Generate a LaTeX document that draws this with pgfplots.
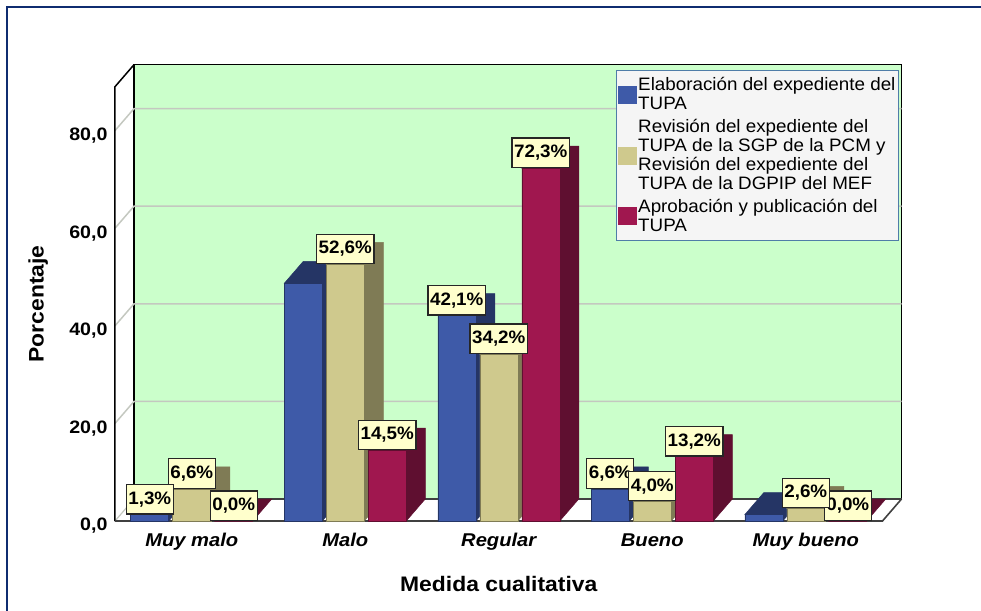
\documentclass[border=0pt]{standalone}
\usepackage{fontspec}
\setmainfont{Liberation Sans}
\newfontfamily\leyf[FakeStretch=1.045]{Liberation Sans}
\newfontfamily\negf[FakeStretch=1.09]{Liberation Sans}
\usepackage{pgfplots}
\usepackage{pgfplotstable}
\pgfplotsset{compat=1.18}

\definecolor{pared}{HTML}{CBFFCB}
\definecolor{rejilla}{HTML}{C4C8C0}
\definecolor{azul}{HTML}{3E5AA8}
\definecolor{azulosc}{HTML}{253565}
\definecolor{ocre}{HTML}{CFC98D}
\definecolor{ocreosc}{HTML}{7F7B55}
\definecolor{grana}{HTML}{A0174F}
\definecolor{granaosc}{HTML}{5F0F30}
\definecolor{marco}{HTML}{0F2C70}
\definecolor{etiq}{HTML}{FFFFCC}
\definecolor{bordeley}{HTML}{4F7DA8}

% valores por categoria
\pgfplotstableread{
x elab rev apro
0 1.3 6.6 0.0
1 48.7 52.6 14.5
2 42.1 34.2 72.3
3 6.6 4.0 13.2
4 1.3 2.6 0.0
}\datos

% etiquetas, el orden decide cual queda encima
\pgfplotstableread{
x y txt
-0.0 6.6 6,6
-0.2736 1.3 1,3
0.2736 0.0 0,0
1.0 52.6 52,6
1.2736 14.5 14,5
1.7264 42.1 42,1
2.0 34.2 34,2
2.2736 72.3 72,3
2.7264 6.6 6,6
3.0 4.0 4,0
3.2736 13.2 13,2
4.2736 0.0 0,0
4.0 2.6 2,6
}\etiquetas

% profundidad en unidades de los ejes
\def\dx{0.1238}
\def\dy{4.508}

% caras lateral y superior de una serie
\newcommand{\caras}[3]{%
  \pgfplotsforeachungrouped \i in {0,...,4}{%
    \pgfplotstablegetelem{\i}{#1}\of\datos
    \let\v\pgfplotsretval
    \pgfmathsetmacro\xl{\i+#2-0.1238}
    \pgfmathsetmacro\xr{\i+#2+0.1238}
    \pgfmathsetmacro\xrb{\xr+\dx}
    \pgfmathsetmacro\xlb{\xl+\dx}
    \pgfmathsetmacro\vb{\v+\dy}
    \addplot[fill=#3, draw=#3, line width=0.5pt, forget plot]
      coordinates {(\xr,0) (\xrb,\dy) (\xrb,\vb) (\xlb,\vb) (\xl,\v) (\xr,\v)} --cycle;
  }%
}

\begin{document}
\begin{tikzpicture}
\path[use as bounding box] (-115pt,-89pt) rectangle (866pt,521pt);
\draw[marco, line width=2pt] (-107.5pt,-95pt) |- (870pt,514pt);
\begin{axis}[
    scale only axis,
    width=767.5pt, height=434.3pt,
    xmin=-0.5, xmax=4.5, ymin=0, ymax=89,
    clip=false,
    axis line style={draw=none},
    major tick length=0pt,
    xtick={0,1,2,3,4},
    xticklabels={Muy malo,Malo,Regular,Bueno,Muy bueno},
    xticklabel style={font=\fontsize{18.5}{22}\negf\bfseries\itshape, yshift=-9pt,
                      text height=13pt, text depth=4pt},
    ytick={0,20,40,60,80},
    yticklabel style={font=\fontsize{18}{20}\negf\bfseries, xshift=-4pt, yshift=-5pt},
    /pgf/number format/.cd, use comma, fixed, fixed zerofill, precision=1, assume math mode=true,
    /pgfplots/.cd,
    xlabel={Medida cualitativa},
    ylabel={Porcentaje},
    xlabel style={font=\fontsize{21}{24}\negf\bfseries, at={(axis description cs:0.5,-0.145)}, anchor=center},
    ylabel style={font=\fontsize{21}{24}\negf\bfseries, at={(axis description cs:-0.1,0.5)}, anchor=center},
    legend style={at={(axis description cs:0.6528,1.0395)}, anchor=north west,
                  fill=black!4, draw=bordeley, line width=1.4pt,
                  font=\fontsize{18}{19}\leyf, inner xsep=1pt, inner ysep=5.5pt,
                  cells={anchor=west, align=left},
                  row sep=4pt},
    legend cell align=left,
]
  % pared del fondo y suelo
  \addplot[fill=pared, draw=black, line width=1.5pt, forget plot]
    coordinates {(-0.3762,4.508) (4.6238,4.508) (4.6238,93.508) (-0.3762,93.508)} --cycle;
  % rejilla
  \addplot[rejilla, line width=1.5pt, forget plot] coordinates {(-0.5,20) (-0.3762,24.508) (4.6238,24.508)};
  \addplot[rejilla, line width=1.5pt, forget plot] coordinates {(-0.5,40) (-0.3762,44.508) (4.6238,44.508)};
  \addplot[rejilla, line width=1.5pt, forget plot] coordinates {(-0.5,60) (-0.3762,64.508) (4.6238,64.508)};
  \addplot[rejilla, line width=1.5pt, forget plot] coordinates {(-0.5,80) (-0.3762,84.508) (4.6238,84.508)};
  \addplot[rejilla, line width=1.2pt, forget plot] coordinates {(-0.5,0) (-0.3762,4.508)};
  % contorno
  \addplot[black, line width=1.5pt, forget plot] coordinates {(-0.5,0) (-0.5,89) (-0.3762,93.508)};
  \addplot[black!75, line width=1.6pt, forget plot] coordinates {(-0.5,0) (4.5,0) (4.6238,4.508)};
  \addplot[black!75, line width=1.4pt, forget plot] coordinates {(-0.3762,4.508) (4.6238,4.508)};

  % barras, de atras hacia delante
  \caras{elab}{-0.2736}{azulosc}
  \addplot[ybar, bar width=38pt, bar shift=-42pt, fill=azul, draw=azulosc, line width=0.5pt,
           area legend, legend image code/.code={\fill[azul] (0pt,-8.5pt) rectangle (18pt,8.5pt);}]
    table[x=x, y=elab] {\datos};
  \addlegendentry{Elaboración del expediente del\\TUPA}
  \caras{rev}{0}{ocreosc}
  \addplot[ybar, bar width=38pt, bar shift=0pt, fill=ocre, draw=ocreosc, line width=0.5pt,
           area legend, legend image code/.code={\fill[ocre] (0pt,-8.5pt) rectangle (18pt,8.5pt);}]
    table[x=x, y=rev] {\datos};
  \addlegendentry{Revisión del expediente del\\TUPA de la SGP de la PCM y\\Revisión del expediente del\\TUPA de la DGPIP del MEF}
  \caras{apro}{0.2736}{granaosc}
  \addplot[ybar, bar width=38pt, bar shift=42pt, fill=grana, draw=granaosc, line width=0.5pt,
           area legend, legend image code/.code={\fill[grana] (0pt,-8.5pt) rectangle (18pt,8.5pt);}]
    table[x=x, y=apro] {\datos};
  \addlegendentry{Aprobación y publicación del\\TUPA}

  % etiquetas de datos
  \addplot[draw=none, mark=none, forget plot, point meta=explicit symbolic,
           nodes near coords={\pgfplotspointmeta\%},
           every node near coord/.append style={anchor=south, fill=etiq, draw=black!85,
             line width=1.2pt, inner xsep=2pt, inner ysep=0pt, minimum height=29.5pt,
             font=\fontsize{18}{20}\leyf\bfseries}]
    table[x=x, y=y, meta=txt] {\etiquetas};
\end{axis}
\end{tikzpicture}
\end{document}
